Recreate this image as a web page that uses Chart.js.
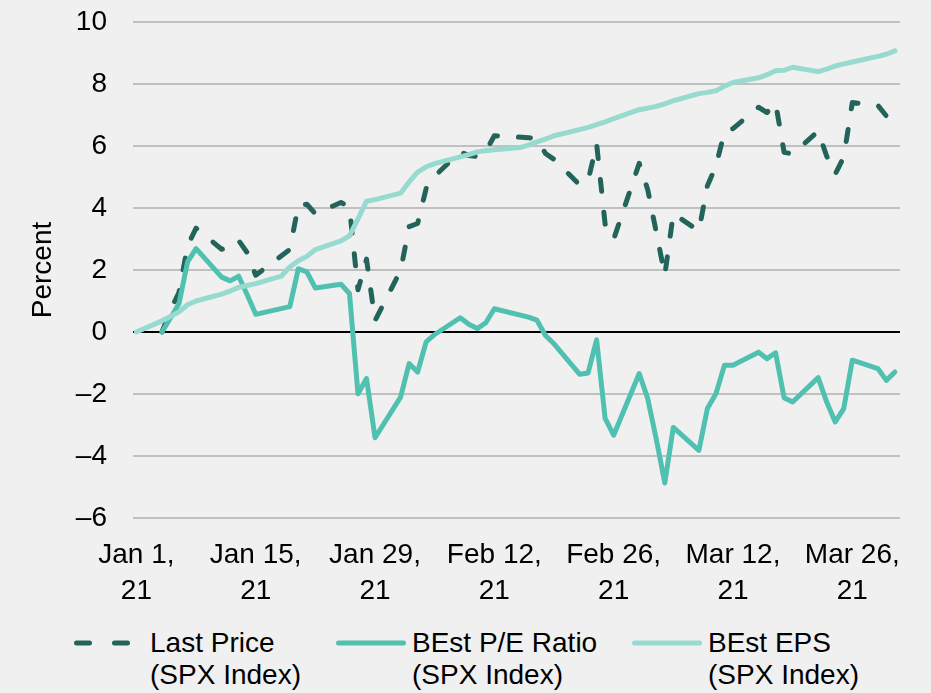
<!DOCTYPE html>
<html>
<head>
<meta charset="utf-8">
<script src="https://cdn.jsdelivr.net/npm/chart.js@4.4.1/dist/chart.umd.min.js"></script>
<style>
    html, body { margin: 0; padding: 0; background: #f0f0f0; width: 931px; height: 693px; overflow: hidden; }
    #wrap { position: relative; width: 931px; height: 693px; font-family: "Liberation Sans", Arial, sans-serif; }
    #chart { position: absolute; left: 0; top: 0; }
    #legend { position: absolute; left: 0; top: 627px; width: 931px; height: 66px; font-size: 28px; line-height: 32px; color: #000; }
    .legend-item { position: absolute; top: 0; display: flex; align-items: flex-start; white-space: nowrap; }
    .legend-item:nth-child(1) { left: 74px; }
    .legend-item:nth-child(2) { left: 336px; }
    .legend-item:nth-child(3) { left: 632px; }
    .legend-item svg { flex: none; margin-right: 6px; }
</style>
</head>
<body>
<div id="wrap">
    <canvas id="chart" width="931" height="612"></canvas>
    <div id="legend"></div>
</div>
<script>
// trading days (2021, MM-DD) for Last Price and P/E
const tradeDates = [
    '01-04', '01-05', '01-06', '01-07', '01-08', '01-11', '01-12', '01-13', '01-14', '01-15',
    '01-19', '01-20', '01-21', '01-22', '01-25', '01-26', '01-27', '01-28', '01-29',
    '02-01', '02-02', '02-03', '02-04', '02-05', '02-08', '02-09', '02-10', '02-11', '02-12',
    '02-16', '02-17', '02-18', '02-19', '02-22', '02-23', '02-24', '02-25', '02-26',
    '03-01', '03-02', '03-03', '03-04', '03-05', '03-08', '03-09', '03-10', '03-11', '03-12',
    '03-15', '03-16', '03-17', '03-18', '03-19', '03-22', '03-23', '03-24', '03-25', '03-26',
    '03-29', '03-30', '03-31'
];
const lastPrice = [
    0, 0.71, 1.28, 2.78, 3.35, 2.67, 2.72, 2.95, 2.56, 1.83,
    2.66, 4.09, 4.12, 3.81, 4.18, 4.03, 1.36, 2.35, 0.37,
    1.98, 3.40, 3.50, 4.63, 5.03, 5.81, 5.69, 5.66, 5.83, 6.33,
    6.27, 6.23, 5.76, 5.57, 4.75, 4.88, 6.07, 3.48, 2.99,
    5.44, 4.59, 3.22, 1.83, 3.82, 3.26, 4.72, 5.35, 6.45, 6.56,
    7.25, 7.08, 7.39, 5.80, 5.74, 6.48, 5.67, 5.09, 5.64, 7.40,
    7.31, 6.97, 7.36
];
const peRatio = [
    0, 0.45, 0.92, 2.26, 2.69, 1.77, 1.65, 1.80, 1.20, 0.57,
    0.82, 2.04, 1.94, 1.42, 1.54, 1.24, -1.99, -1.50, -3.41,
    -2.10, -1.02, -1.29, -0.32, -0.08, 0.46, 0.25, 0.11, 0.30, 0.75,
    0.48, 0.38, -0.11, -0.38, -1.36, -1.32, -0.25, -2.79, -3.33,
    -1.34, -2.15, -3.45, -4.87, -3.08, -3.82, -2.47, -1.99, -1.07, -1.07,
    -0.65, -0.86, -0.67, -2.12, -2.26, -1.47, -2.26, -2.90, -2.47, -0.91,
    -1.18, -1.56, -1.29
];

// EPS is reported on every weekday
const epsDates = [
    '01-01', '01-04', '01-05', '01-06', '01-07', '01-08', '01-11', '01-12', '01-13', '01-14', '01-15',
    '01-18', '01-19', '01-20', '01-21', '01-22', '01-25', '01-26', '01-27', '01-28', '01-29',
    '02-01', '02-02', '02-03', '02-04', '02-05', '02-08', '02-09', '02-10', '02-11', '02-12',
    '02-15', '02-16', '02-17', '02-18', '02-19', '02-22', '02-23', '02-24', '02-25', '02-26',
    '03-01', '03-02', '03-03', '03-04', '03-05', '03-08', '03-09', '03-10', '03-11', '03-12',
    '03-15', '03-16', '03-17', '03-18', '03-19', '03-22', '03-23', '03-24', '03-25', '03-26',
    '03-29', '03-30', '03-31'
];
const bestEps = [
    0, 0.36, 0.50, 0.65, 0.88, 1.00, 1.22, 1.32, 1.44, 1.50, 1.56,
    1.80, 2.10, 2.30, 2.44, 2.66, 2.94, 3.10, 3.65, 4.22, 4.27,
    4.48, 4.84, 5.16, 5.33, 5.43, 5.65, 5.72, 5.81, 5.85, 5.88,
    5.95, 6.03, 6.13, 6.22, 6.33, 6.53, 6.60, 6.69, 6.78, 6.88,
    7.17, 7.22, 7.28, 7.36, 7.46, 7.69, 7.73, 7.78, 7.93, 8.05,
    8.20, 8.30, 8.43, 8.44, 8.54, 8.40, 8.48, 8.58, 8.65, 8.71,
    8.89, 8.96, 9.07
];

const xTickDays = [0, 14, 28, 42, 56, 70, 84];
const xTickLabels = [
    ['Jan 1,', '21'], ['Jan 15,', '21'], ['Jan 29,', '21'], ['Feb 12,', '21'],
    ['Feb 26,', '21'], ['Mar 12,', '21'], ['Mar 26,', '21']
];
const seriesNames = [
    ['Last Price', '(SPX Index)'],
    ['BEst P/E Ratio', '(SPX Index)'],
    ['BEst EPS', '(SPX Index)']
];

const FONT = '"Liberation Sans", Arial, sans-serif';

// day number counted from Jan 1, 2021
function dayOf(mmdd) {
    const [m, d] = mmdd.split('-').map(Number);
    return (Date.UTC(2021, m - 1, d) - Date.UTC(2021, 0, 1)) / 86400000;
}
function toPoints(dates, values) {
    return dates.map((dt, i) => ({x: dayOf(dt), y: values[i]}));
}

const lineDefaults = {
    fill: false,
    tension: 0,
    pointRadius: 0,
    pointHoverRadius: 0,
    borderWidth: 5,
    borderCapStyle: 'round',
    borderJoinStyle: 'round'
};

const ctx = document.getElementById('chart').getContext('2d');
const chart = new Chart(ctx, {
    type: 'line',
    data: {
        datasets: [
            Object.assign({}, lineDefaults, {
                label: seriesNames[0].join(' '),
                data: toPoints(tradeDates, lastPrice),
                borderColor: '#22645a',
                borderDash: [12, 21],
                order: 3
            }),
            Object.assign({}, lineDefaults, {
                label: seriesNames[1].join(' '),
                data: toPoints(tradeDates, peRatio),
                borderColor: '#50c0b0',
                order: 2
            }),
            Object.assign({}, lineDefaults, {
                label: seriesNames[2].join(' '),
                data: toPoints(epsDates, bestEps),
                borderColor: '#97dacf',
                order: 1
            })
        ]
    },
    options: {
        responsive: false,
        animation: false,
        layout: {
            padding: {top: 22, right: 31, bottom: 0, left: 0}
        },
        plugins: {
            legend: {display: false},
            tooltip: {enabled: false}
        },
        scales: {
            x: {
                type: 'linear',
                min: -0.4,
                max: 89.6,
                afterBuildTicks: function (scale) {
                    scale.ticks = xTickDays.map(v => ({value: v}));
                },
                afterFit: function (scale) {
                    scale.height = 94;
                },
                grid: {display: false},
                border: {display: false},
                ticks: {
                    autoSkip: false,
                    maxRotation: 0,
                    padding: 11,
                    color: '#000',
                    font: {family: FONT, size: 28, lineHeight: 1.3},
                    callback: function (value) {
                        const i = xTickDays.indexOf(value);
                        return i >= 0 ? xTickLabels[i] : '';
                    }
                }
            },
            y: {
                min: -6,
                max: 10,
                afterFit: function (scale) {
                    scale.width = 133;
                    // tick padding would otherwise push the plot top down
                    scale.paddingTop = 0;
                    scale.paddingBottom = 0;
                },
                border: {display: false},
                grid: {
                    drawTicks: false,
                    lineWidth: 2,
                    color: c => (c.tick && c.tick.value === 0) ? '#000000' : '#c0c0c0'
                },
                ticks: {
                    stepSize: 2,
                    padding: 26,
                    color: '#000',
                    font: {family: FONT, size: 28},
                    callback: v => v < 0 ? '\u2013' + Math.abs(v) : String(v)
                },
                title: {
                    display: true,
                    text: 'Percent',
                    color: '#000',
                    font: {family: FONT, size: 28},
                    padding: {top: 26, bottom: 0}
                }
            }
        }
    }
});

// legend below the chart, two-line labels
function buildLegend() {
    const box = document.getElementById('legend');
    chart.data.datasets.forEach((ds, i) => {
        const item = document.createElement('div');
        item.className = 'legend-item';
        const dash = ds.borderDash ? ' stroke-dasharray="13 25"' : '';
        item.innerHTML =
            '<svg width="70" height="32"><line x1="2.5" y1="16" x2="67.5" y2="16" stroke="' + ds.borderColor +
            '" stroke-width="5" stroke-linecap="round"' + dash + '/></svg>' +
            '<div>' + seriesNames[i].join('<br>') + '</div>';
        box.appendChild(item);
    });
}
buildLegend();
</script>
</body>
</html>
